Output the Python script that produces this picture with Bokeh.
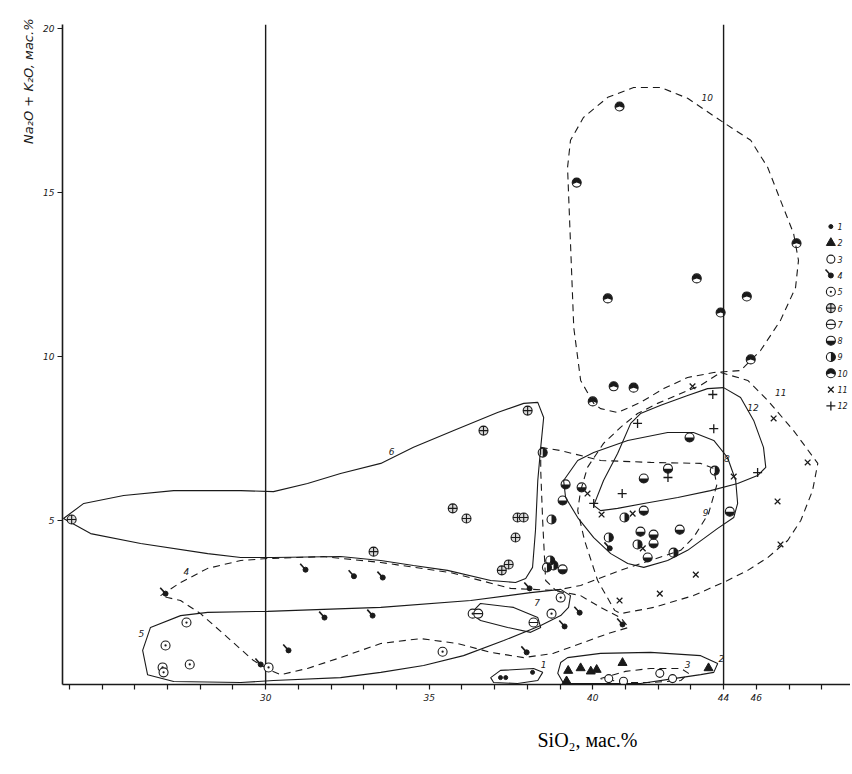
import math
from bokeh.plotting import figure
from bokeh.models import FixedTicker, Range1d, Title
from bokeh.core.properties import value
from bokeh.embed import file_html
from bokeh.resources import INLINE

# ---------------- data (SiO2, Na2O+K2O) ----------------
s1_x = [37.18, 37.34, 38.16]
s1_y = [0.21, 0.21, 0.37]
s2_x = [39.2, 39.25, 39.63, 39.94, 40.12, 40.91, 43.54]
s2_y = [0.10, 0.42, 0.50, 0.40, 0.45, 0.66, 0.50]
s3_x = [40.49, 40.94, 42.05, 42.44]
s3_y = [0.18, 0.10, 0.34, 0.18]
s4_x = [26.94, 29.85, 30.7, 31.22, 31.8, 32.7, 33.27, 33.58, 37.98, 38.07, 39.14, 39.6, 40.52, 40.91]
s4_y = [2.77, 0.61, 1.04, 3.5, 2.04, 3.3, 2.1, 3.26, 0.98, 2.93, 1.77, 2.19, 4.15, 1.83]
s5_x = [26.85, 26.88, 26.94, 27.58, 27.68, 30.09, 35.41, 36.33, 38.74, 39.02]
s5_y = [0.52, 0.37, 1.19, 1.89, 0.61, 0.52, 1.0, 2.16, 2.16, 2.65]
s6_x = [24.07, 33.3, 35.72, 36.14, 36.66, 37.22, 37.43, 37.64, 37.7, 37.89, 38.01]
s6_y = [5.03, 4.05, 5.37, 5.06, 7.74, 3.48, 3.66, 4.48, 5.09, 5.09, 8.35]
s7_x = [36.5, 38.19]
s7_y = [2.16, 1.89]
s8_x = [39.17, 39.66, 39.08, 41.56, 42.3, 42.96, 41.56, 41.46, 41.86, 41.86, 41.68, 42.66, 44.19, 39.08]
s8_y = [6.10, 6.01, 5.61, 6.28, 6.58, 7.53, 5.3, 4.66, 4.57, 4.30, 3.87, 4.72, 5.27, 3.51]
s9_x = [38.47, 38.74, 38.7, 38.6, 38.8, 40.49, 40.97, 41.37, 42.47, 43.73]
s9_y = [7.07, 5.03, 3.78, 3.57, 3.63, 4.48, 5.09, 4.27, 4.02, 6.52]
s10_x = [40.82, 39.51, 46.23, 43.18, 40.46, 44.71, 43.91, 44.83, 40.64, 41.25, 40.0]
s10_y = [17.62, 15.3, 13.45, 12.38, 11.77, 11.83, 11.34, 9.91, 9.09, 9.05, 8.63]
s11_x = [43.05, 45.53, 46.57, 44.31, 45.65, 45.74, 43.15, 42.05, 40.82, 40.27, 41.22, 41.53, 39.84]
s11_y = [9.09, 8.11, 6.77, 6.34, 5.58, 4.27, 3.35, 2.77, 2.56, 5.18, 5.21, 4.15, 5.82]
s12_x = [43.7, 43.67, 45.04, 41.37, 40.03, 40.9, 42.3]
s12_y = [7.8, 8.84, 6.46, 7.96, 5.52, 5.82, 6.31]

# field outlines
r1_x = [36.88, 37.18, 38.19, 38.47, 38.32, 37.7, 36.97]
r1_y = [0.21, 0.43, 0.49, 0.37, 0.12, 0.03, 0.06]
r2_x = [38.93, 39.02, 39.23, 40.24, 41.77, 43.3, 43.82, 43.7, 43.3, 42.47, 41.46, 39.11]
r2_y = [0.34, 0.67, 0.82, 0.95, 0.98, 0.88, 0.64, 0.37, 0.30, 0.18, 0.03, 0.03]
r3_x = [40.24, 41.0, 41.77, 42.69, 42.93, 42.69, 41.77, 41.0]
r3_y = [0.18, 0.40, 0.49, 0.49, 0.34, 0.12, 0.06, 0.06]
r4_x = [26.79, 27.4, 28.23, 29.24, 30.06, 31.77, 33.52, 35.66, 37.49, 38.8, 39.63, 40.24, 40.85, 41.1,
        40.46, 39.63, 38.8, 37.89, 36.88, 35.87, 34.74, 33.52, 32.29, 31.28, 30.46, 30.15, 29.63, 28.84,
        28.01, 27.4, 27.0]
r4_y = [2.71, 3.11, 3.54, 3.78, 3.84, 3.9, 3.72, 3.41, 2.93, 2.87, 2.71, 2.35, 2.04, 1.74,
        1.55, 1.25, 0.95, 0.82, 0.98, 1.25, 1.40, 1.25, 0.82, 0.49, 0.30, 0.43, 0.73, 1.43,
        2.16, 2.56, 2.65]
r5_x = [26.48, 27.4, 28.23, 30.06, 31.77, 33.52, 36.27, 38.1, 39.02, 39.32, 39.26, 39.02, 38.41, 37.28,
        36.05, 34.83, 33.52, 32.29, 30.24, 29.24, 27.19, 26.39, 26.24]
r5_y = [1.74, 2.10, 2.20, 2.23, 2.29, 2.35, 2.56, 2.80, 2.90, 2.71, 2.35, 2.10, 1.80, 1.34,
        0.88, 0.58, 0.37, 0.21, 0.12, 0.06, 0.09, 0.30, 1.04]
r6_x = [23.82, 24.44, 25.66, 27.19, 29.24, 30.24, 31.28, 32.29, 33.52, 34.52, 35.75, 37.09, 37.89, 38.32,
        38.5, 38.41, 38.32, 38.25, 38.16, 37.95, 37.64, 36.88, 35.56, 34.52, 33.52, 32.29, 30.24, 29.24,
        28.23, 26.18, 24.65]
r6_y = [5.06, 5.52, 5.76, 5.91, 5.91, 5.88, 6.13, 6.43, 6.74, 7.23, 7.74, 8.29, 8.57, 8.60,
        8.14, 7.23, 6.22, 4.70, 3.57, 3.23, 3.11, 3.17, 3.48, 3.63, 3.78, 3.90, 3.87, 3.87,
        3.99, 4.30, 4.60]
r7_x = [36.27, 36.57, 37.58, 38.32, 38.41, 38.1, 37.4, 36.57]
r7_y = [2.16, 2.47, 2.35, 2.04, 1.74, 1.59, 1.74, 1.95]
r8_x = [39.11, 39.54, 40.03, 41.07, 42.29, 43.08, 43.7, 44.12, 44.37, 44.43, 44.31, 43.82, 42.9, 42.29,
        41.56, 41.07, 40.55, 40.03, 39.54, 39.17]
r8_y = [6.22, 6.83, 7.07, 7.44, 7.68, 7.68, 7.44, 6.92, 6.22, 5.52, 5.09, 4.76, 4.09, 3.78,
        3.57, 3.69, 3.99, 4.48, 5.09, 5.70]
r9_x = [38.41, 39.02, 40.24, 41.77, 43.3, 43.7, 43.79, 43.54, 43.08, 42.69, 40.85, 39.63, 38.87, 38.56,
        38.47, 38.41]
r9_y = [7.23, 7.13, 6.83, 6.77, 6.74, 6.59, 6.07, 5.21, 4.48, 4.09, 3.48, 3.02, 2.87, 3.17,
        4.97, 6.52]
r10_x = [40.03, 39.63, 39.42, 39.32, 39.23, 39.32, 39.72, 40.46, 41.25, 42.08, 42.9, 44.0, 44.83, 45.35,
         45.74, 46.14, 46.29, 46.2, 45.74, 45.13, 44.52, 43.7, 42.9, 42.17, 41.46, 40.76, 40.24]
r10_y = [8.57, 9.27, 10.88, 13.45, 15.76, 16.59, 17.29, 17.9, 18.2, 18.2, 17.87, 17.13, 16.59, 15.76,
         14.76, 13.75, 12.93, 12.1, 11.1, 10.18, 9.57, 9.51, 9.36, 9.02, 8.60, 8.29, 8.41]
r11_x = [43.91, 44.74, 45.35, 46.14, 46.88, 46.72, 46.36, 45.96, 45.35, 44.74, 44.12, 43.08, 41.86, 40.85,
         40.67, 40.15, 39.75, 39.54, 39.63, 39.84, 40.33, 40.85, 41.37, 41.98, 42.69, 43.3]
r11_y = [9.51, 9.27, 8.66, 7.74, 6.74, 5.91, 5.0, 4.39, 3.87, 3.48, 3.17, 2.71, 2.35, 2.16,
         2.26, 3.17, 4.39, 5.3, 5.91, 6.62, 7.35, 7.84, 8.26, 8.57, 8.87, 9.12]
r12_x = [40.03, 40.33, 40.76, 41.16, 41.46, 42.08, 42.9, 43.51, 44.0, 44.52, 44.92, 45.22, 45.29, 45.04,
         44.43, 43.6, 42.6, 41.56, 40.76, 40.24]
r12_y = [5.46, 6.22, 7.04, 7.96, 8.26, 8.51, 8.81, 9.02, 9.05, 8.75, 8.05, 7.23, 6.62, 6.37,
         6.13, 5.91, 5.70, 5.52, 5.37, 5.30]

field_labels = ["1", "2", "3", "4", "5", "6", "7", "8", "9", "10", "11", "12"]
field_lab_x = [38.5, 43.93, 42.9, 27.58, 26.2, 33.85, 38.3, 44.1, 43.45, 43.5, 45.75, 44.9]
field_lab_y = [0.62, 0.80, 0.60, 3.45, 1.55, 7.10, 2.50, 6.90, 5.25, 17.9, 8.90, 8.45]

x_tick_values = list(range(24, 48))
x_tick_labels = {30: "30", 35: "35", 40: "40", 44: "44", 45: "46"}
y_tick_values = [5, 10, 15, 20]
boundary_lines = [30, 44]
legend_labels = ["1", "2", "3", "4", "5", "6", "7", "8", "9", "10", "11", "12"]

INK = "#1a1a1a"

p = figure(width=850, height=773, x_range=Range1d(23.79, 47.88), y_range=Range1d(0, 20.12),
           output_backend="svg", toolbar_location=None,
           min_border_left=62, min_border_right=0, min_border_top=24, min_border_bottom=89)
p.grid.visible = False
p.outline_line_color = None
p.background_fill_color = "white"

# axes
p.xaxis.ticker = FixedTicker(ticks=x_tick_values)
p.xaxis.major_label_overrides = {t: x_tick_labels.get(t, "") for t in x_tick_values}
p.yaxis.ticker = FixedTicker(ticks=y_tick_values)
for ax in (p.xaxis, p.yaxis):
    ax.axis_line_width = 1.6
    ax.axis_line_color = INK
    ax.major_tick_line_color = INK
    ax.major_tick_line_width = 1.2
    ax.major_tick_in = 0
    ax.major_tick_out = 5
    ax.minor_tick_line_color = None
    ax.major_label_text_font = "DejaVu Sans"
    ax.major_label_text_font_style = "italic"
    ax.major_label_text_font_size = "9px"
    ax.major_label_text_color = INK
p.xaxis.major_label_standoff = 4
p.yaxis.major_label_standoff = 3

# axis titles
p.add_layout(Title(text="Na₂O + K₂O, мас.%", align="right", offset=-6,
                   text_font="DejaVu Sans", text_font_style="italic", text_font_size="13px",
                   text_color=INK), "left")
p.add_layout(Title(text="SiO₂, мас.%", align="left", offset=475, standoff=46,
                   text_font="Liberation Serif", text_font_style="normal", text_font_size="20px",
                   text_color="black"), "below")

# vertical boundary lines
p.segment(x0=boundary_lines, y0=[0, 0], x1=boundary_lines, y1=[20.12, 20.12], line_color=INK, line_width=1.4)

# field outlines
solid = [(r1_x, r1_y), (r2_x, r2_y), (r5_x, r5_y), (r6_x, r6_y), (r7_x, r7_y), (r8_x, r8_y), (r12_x, r12_y)]
dashed = [(r3_x, r3_y), (r4_x, r4_y), (r9_x, r9_y), (r10_x, r10_y), (r11_x, r11_y)]
p.patches(xs=[a for a, b in solid], ys=[b for a, b in solid], fill_alpha=0, line_color=INK, line_width=1.1)
p.patches(xs=[a for a, b in dashed], ys=[b for a, b in dashed], fill_alpha=0, line_color=INK,
          line_width=1.1, line_dash="7 5")
p.text(x=field_lab_x, y=field_lab_y, text=field_labels, text_font=value("DejaVu Sans"),
       text_font_style="italic", text_font_size="9px", text_color=INK, text_align="center",
       text_baseline="middle")


def draw_symbol(kind, xs, ys):
    if kind == 1:
        p.scatter(xs, ys, marker="circle", size=4, fill_color=INK, line_color=INK)
    elif kind == 2:
        p.scatter(xs, ys, marker="triangle", size=9, fill_color=INK, line_color=INK)
    elif kind == 3:
        p.scatter(xs, ys, marker="circle", size=8, fill_color="white", line_color=INK, line_width=1.1)
    elif kind == 4:
        p.ray(xs, ys, length=8, length_units="screen", angle=2.3, line_color=INK, line_width=1.6)
        p.scatter(xs, ys, marker="circle", size=5, fill_color=INK, line_color=INK)
    elif kind == 5:
        p.scatter(xs, ys, marker="circle_dot", size=9, fill_color="white", line_color=INK, line_width=1.1)
    elif kind == 6:
        p.scatter(xs, ys, marker="circle_cross", size=9, fill_color="#d8d8d8", line_color=INK, line_width=1.1)
    elif kind == 7:
        p.scatter(xs, ys, marker="circle", size=9, fill_color="white", line_color=INK, line_width=1.1)
        p.scatter(xs, ys, marker="dash", size=9, line_color=INK, line_width=1.1)
    elif kind in (8, 9, 10):
        if kind == 8:
            a0, a1 = math.pi, 2 * math.pi
        elif kind == 9:
            a0, a1 = -math.pi / 2, math.pi / 2
        else:
            a0, a1 = math.radians(-20), math.radians(200)
        p.wedge(xs, ys, radius=4.5, radius_units="screen", start_angle=a0, end_angle=a1,
                fill_color=INK, line_color=None)
        p.scatter(xs, ys, marker="circle", size=9, fill_color=None, line_color=INK, line_width=1.1)
    elif kind == 11:
        p.scatter(xs, ys, marker="x", size=8, line_color=INK, line_width=1.3)
    elif kind == 12:
        p.scatter(xs, ys, marker="cross", size=9, line_color=INK, line_width=1.3)


series = [(s1_x, s1_y), (s2_x, s2_y), (s3_x, s3_y), (s4_x, s4_y), (s5_x, s5_y), (s6_x, s6_y),
          (s7_x, s7_y), (s8_x, s8_y), (s9_x, s9_y), (s10_x, s10_y), (s11_x, s11_y), (s12_x, s12_y)]
for k, (xs, ys) in enumerate(series, start=1):
    draw_symbol(k, xs, ys)

# legend column at the right edge
leg_x = 47.28
leg_top = 13.96
leg_step = 0.497
for i, lab in enumerate(legend_labels):
    draw_symbol(i + 1, [leg_x], [leg_top - i * leg_step])
p.text(x=[leg_x + 0.2] * 12, y=[leg_top - i * leg_step for i in range(12)], text=legend_labels,
       text_font=value("DejaVu Sans"), text_font_style="italic", text_font_size="8px",
       text_color=INK, text_baseline="middle")

open("out.html", "w").write(file_html(p, INLINE))
